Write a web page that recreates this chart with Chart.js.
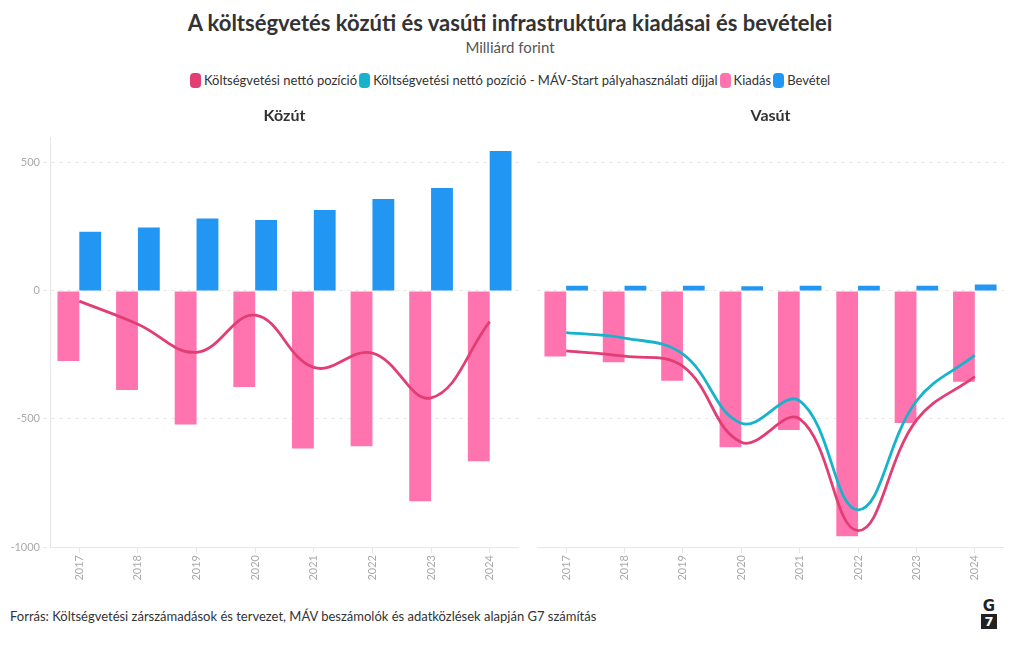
<!DOCTYPE html>
<html lang="hu">
<head>
<meta charset="utf-8">
<script src="https://cdn.jsdelivr.net/npm/chart.js@4/dist/chart.umd.min.js"></script>
<style>
  body { margin: 0; width: 1020px; height: 650px; background: #fff; font-family: Lato, "Open Sans", sans-serif; color: #333; position: relative; overflow: hidden; }
  #title { position: absolute; top: 9px; left: 0; width: 1020px; text-align: center; font-size: 22px; font-weight: bold; color: #333; }
  #subtitle { position: absolute; top: 38px; left: 0; width: 1020px; text-align: center; font-size: 15px; color: #555; }
  #legend { position: absolute; top: 72px; left: 0; width: 1020px; display: flex; justify-content: center; font-size: 13px; color: #333; }
  #legend span.item { display: flex; align-items: center; margin: 0 1px; }
  #legend span.box { display: inline-block; width: 11px; height: 15px; border-radius: 4px; margin-right: 3px; }
  .wrap { position: absolute; top: 102px; height: 488px; }
  #roadWrap { left: 0; width: 519px; }
  #railWrap { left: 520px; width: 484px; }
  #source { position: absolute; top: 608px; left: 10px; font-size: 13px; color: #333; }
  #logo { position: absolute; top: 598px; left: 981px; width: 16px; text-align: center; font-weight: bold; font-family: "DejaVu Sans", sans-serif; }
  #logo .g { font-size: 15px; line-height: 16px; color: #222; }
  #logo .s { font-size: 13px; line-height: 15px; background: #222; color: #fff; }
</style>
</head>
<body>
<div id="title">A költségvetés közúti és vasúti infrastruktúra kiadásai és bevételei</div>
<div id="subtitle">Milliárd forint</div>
<div id="legend"></div>
<div class="wrap" id="roadWrap"><canvas id="roadChart"></canvas></div>
<div class="wrap" id="railWrap"><canvas id="railChart"></canvas></div>
<div id="source">Forrás: Költségvetési zárszámadások és tervezet, MÁV beszámolók és adatközlések alapján G7 számítás</div>
<div id="logo"><div class="g">G</div><div class="s">7</div></div>
<script>
const years = ['2017', '2018', '2019', '2020', '2021', '2022', '2023', '2024'];

// Közút
const roadExpense = [-274, -387, -522, -375, -615, -607, -821, -665];
const roadRevenue = [231, 247, 283, 277, 316, 359, 402, 546];
const roadNet = [-40, -130, -240, -95, -299, -243, -418, -120];

// Vasút
const railExpense = [-256, -279, -351, -611, -543, -958, -516, -355];
const railRevenue = [20, 20, 20, 18, 20, 20, 20, 25];
const railNet = [-234, -255, -295, -591, -500, -936, -505, -335];
const railNetMav = [-163, -184, -247, -517, -429, -855, -430, -251];

const yTicks = [-1000, -500, 0, 500];

const seriesNames = ['Költségvetési nettó pozíció', 'Költségvetési nettó pozíció - MÁV-Start pályahasználati díjjal', 'Kiadás', 'Bevétel'];
const seriesColors = ['#e23e74', '#17b3cd', '#ff74ae', '#2196f3'];

// shared legend
const legendEl = document.getElementById('legend');
seriesNames.forEach((name, i) => {
    const item = document.createElement('span');
    item.className = 'item';
    item.innerHTML = `<span class="box" style="background:${seriesColors[i]}"></span>${name}`;
    legendEl.appendChild(item);
});

function lineSet(label, data, color) {
    return {
        type: 'line', label: label, data: data,
        borderColor: color, backgroundColor: color,
        borderWidth: 2.8, tension: 0.4, pointRadius: 0, order: 0
    };
}
function barSet(label, data, color) {
    return {
        type: 'bar', label: label, data: data,
        backgroundColor: color, barPercentage: 1, categoryPercentage: 0.745, order: 1
    };
}

function makeChart(id, title, datasets, showY) {
    return new Chart(document.getElementById(id), {
        data: { labels: years, datasets: datasets },
        options: {
            responsive: true,
            maintainAspectRatio: false,
            animation: false,
            layout: { padding: 0 },
            plugins: {
                legend: { display: false },
                tooltip: { enabled: false },
                title: {
                    display: true, text: title, color: '#333', fullSize: false,
                    font: { family: 'Lato', size: 16, weight: 'bold' },
                    padding: { top: 4, bottom: 12 }
                }
            },
            scales: {
                x: {
                    grid: { display: true, offset: false, drawOnChartArea: false, drawTicks: true, tickLength: 6, color: '#e6e6e6' },
                    border: { display: true, color: '#e6e6e6' },
                    ticks: { color: '#aaa', font: { family: 'Lato', size: 11 }, maxRotation: 90, minRotation: 90, padding: 2 },
                    afterFit: s => { s.height = 43; }
                },
                y: {
                    min: -1000, max: 600,
                    afterBuildTicks: s => { s.ticks = yTicks.map(v => ({ value: v })); },
                    grid: { color: '#ebebeb', drawTicks: showY, tickLength: 7, tickBorderDash: [4, 4] },
                    border: { display: showY, color: '#e6e6e6', dash: [4, 4] },
                    ticks: { display: showY, color: '#aaa', font: { family: 'Lato', size: 11 }, padding: 3, callback: v => String(v) },
                    afterFit: s => { s.width = showY ? 50 : 17; }
                }
            }
        }
    });
}

const roadChart = makeChart('roadChart', 'Közút', [
    lineSet(seriesNames[0], roadNet, seriesColors[0]),
    barSet(seriesNames[2], roadExpense, seriesColors[2]),
    barSet(seriesNames[3], roadRevenue, seriesColors[3])
], true);

const railChart = makeChart('railChart', 'Vasút', [
    lineSet(seriesNames[0], railNet, seriesColors[0]),
    lineSet(seriesNames[1], railNetMav, seriesColors[1]),
    barSet(seriesNames[2], railExpense, seriesColors[2]),
    barSet(seriesNames[3], railRevenue, seriesColors[3])
], false);
</script>
</body>
</html>
